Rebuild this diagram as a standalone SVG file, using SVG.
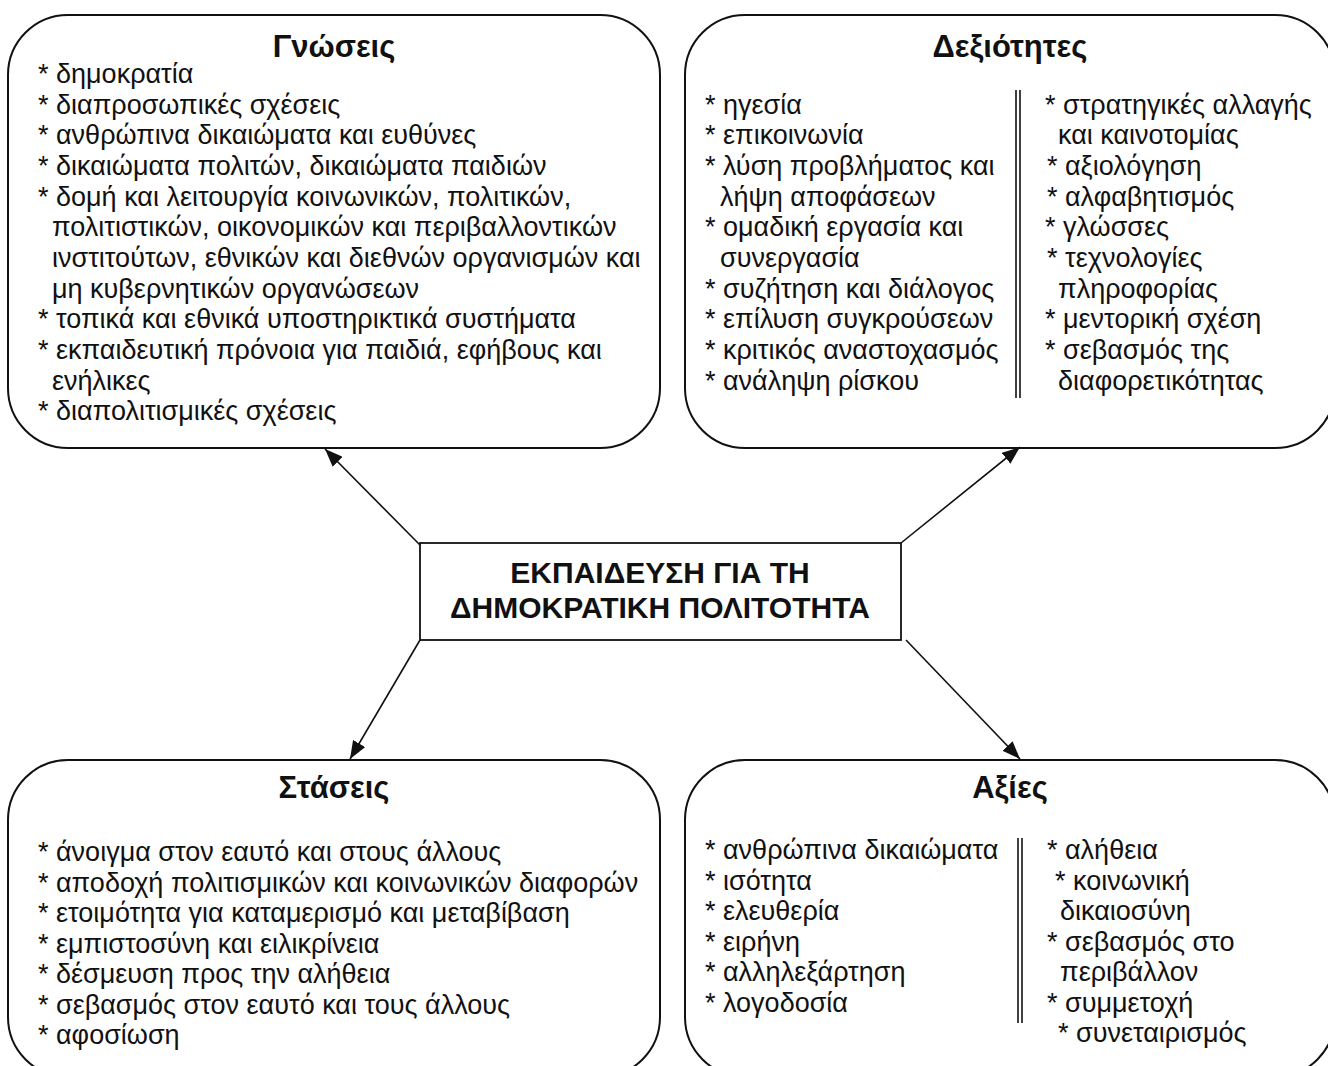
<svg xmlns="http://www.w3.org/2000/svg" width="1328" height="1066" viewBox="0 0 1328 1066">
  <style>
    .box { fill: #fff; stroke: #111; stroke-width: 2; }
    .hub { fill: #fff; stroke: #111; stroke-width: 1.8; }
    .title { font-family: "Liberation Sans", Arial, sans-serif; font-weight: bold; font-size: 31px; fill: #111; text-anchor: middle; }
    .hubtxt { font-family: "Liberation Sans", Arial, sans-serif; font-weight: bold; font-size: 30px; fill: #111; text-anchor: middle; }
    .item { font-family: "Liberation Sans", Arial, sans-serif; font-size: 27px; fill: #111; }
    .bar { stroke: #111; stroke-width: 1.6; }
    .link { stroke: #111; stroke-width: 1.6; fill: none; marker-end: url(#head); }
  </style>
  <defs>
    <marker id="head" markerUnits="userSpaceOnUse" markerWidth="20" markerHeight="14" refX="18" refY="7" orient="auto">
      <path d="M0,0 L18,7 L0,14 z" fill="#111"/>
    </marker>
  </defs>

  <!-- Knowledge -->
  <g id="knowledge">
    <rect class="box" x="8" y="15" width="652" height="433" rx="60" ry="60"/>
    <text class="title" x="334" y="57">Γνώσεις</text>
    <text class="item" x="38" y="83">* δημοκρατία</text>
    <text class="item" x="38" y="113.6">* διαπροσωπικές σχέσεις</text>
    <text class="item" x="38" y="144.3">* ανθρώπινα δικαιώματα και ευθύνες</text>
    <text class="item" x="38" y="174.9">* δικαιώματα πολιτών, δικαιώματα παιδιών</text>
    <text class="item" x="38" y="205.6">* δομή και λειτουργία κοινωνικών, πολιτικών,</text>
    <text class="item" x="52" y="236.2">πολιτιστικών, οικονομικών και περιβαλλοντικών</text>
    <text class="item" x="52" y="266.9">ινστιτούτων, εθνικών και διεθνών οργανισμών και</text>
    <text class="item" x="52" y="297.5">μη κυβερνητικών οργανώσεων</text>
    <text class="item" x="38" y="328.2">* τοπικά και εθνικά υποστηρικτικά συστήματα</text>
    <text class="item" x="38" y="358.8">* εκπαιδευτική πρόνοια για παιδιά, εφήβους και</text>
    <text class="item" x="52" y="389.5">ενήλικες</text>
    <text class="item" x="38" y="420.1">* διαπολιτισμικές σχέσεις</text>
  </g>

  <!-- Skills -->
  <g id="skills">
    <rect class="box" x="685" y="15" width="650" height="433" rx="60" ry="60"/>
    <text class="title" x="1010" y="57">Δεξιότητες</text>
    <line class="bar" x1="1016" y1="90" x2="1016" y2="398"/>
    <line class="bar" x1="1020" y1="90" x2="1020" y2="398"/>
    <text class="item" x="705" y="113.6">* ηγεσία</text>
    <text class="item" x="705" y="144.3">* επικοινωνία</text>
    <text class="item" x="705" y="174.9">* λύση προβλήματος και</text>
    <text class="item" x="720" y="205.6">λήψη αποφάσεων</text>
    <text class="item" x="705" y="236.2">* ομαδική εργασία και</text>
    <text class="item" x="720" y="266.9">συνεργασία</text>
    <text class="item" x="705" y="297.5">* συζήτηση και διάλογος</text>
    <text class="item" x="705" y="328.2">* επίλυση συγκρούσεων</text>
    <text class="item" x="705" y="358.8">* κριτικός αναστοχασμός</text>
    <text class="item" x="705" y="389.5">* ανάληψη ρίσκου</text>
    <text class="item" x="1045" y="113.6">* στρατηγικές αλλαγής</text>
    <text class="item" x="1058" y="144.3">και καινοτομίας</text>
    <text class="item" x="1047" y="174.9">* αξιολόγηση</text>
    <text class="item" x="1047" y="205.6">* αλφαβητισμός</text>
    <text class="item" x="1045" y="236.2">* γλώσσες</text>
    <text class="item" x="1047" y="266.9">* τεχνολογίες</text>
    <text class="item" x="1058" y="297.5">πληροφορίας</text>
    <text class="item" x="1045" y="328.2">* μεντορική σχέση</text>
    <text class="item" x="1045" y="358.8">* σεβασμός της</text>
    <text class="item" x="1058" y="389.5">διαφορετικότητας</text>
  </g>

  <!-- Central hub -->
  <g id="hub">
    <rect class="hub" x="420" y="543" width="481" height="97"/>
    <text class="hubtxt" x="660" y="583">ΕΚΠΑΙΔΕΥΣΗ ΓΙΑ ΤΗ</text>
    <text class="hubtxt" x="660" y="618">ΔΗΜΟΚΡΑΤΙΚΗ ΠΟΛΙΤΟΤΗΤΑ</text>
  </g>

  <!-- Attitudes -->
  <g id="attitudes">
    <rect class="box" x="8" y="760" width="652" height="317" rx="60" ry="60"/>
    <text class="title" x="334" y="798">Στάσεις</text>
    <text class="item" x="38" y="861">* άνοιγμα στον εαυτό και στους άλλους</text>
    <text class="item" x="38" y="891.5">* αποδοχή πολιτισμικών και κοινωνικών διαφορών</text>
    <text class="item" x="38" y="922">* ετοιμότητα για καταμερισμό και μεταβίβαση</text>
    <text class="item" x="38" y="952.5">* εμπιστοσύνη και ειλικρίνεια</text>
    <text class="item" x="38" y="983">* δέσμευση προς την αλήθεια</text>
    <text class="item" x="38" y="1013.5">* σεβασμός στον εαυτό και τους άλλους</text>
    <text class="item" x="38" y="1044">* αφοσίωση</text>
  </g>

  <!-- Values -->
  <g id="values">
    <rect class="box" x="685" y="760" width="650" height="317" rx="60" ry="60"/>
    <text class="title" x="1010" y="798">Αξίες</text>
    <line class="bar" x1="1018" y1="838" x2="1018" y2="1023"/>
    <line class="bar" x1="1022" y1="838" x2="1022" y2="1023"/>
    <text class="item" x="705" y="859">* ανθρώπινα δικαιώματα</text>
    <text class="item" x="705" y="889.5">* ισότητα</text>
    <text class="item" x="705" y="920">* ελευθερία</text>
    <text class="item" x="705" y="950.5">* ειρήνη</text>
    <text class="item" x="705" y="981">* αλληλεξάρτηση</text>
    <text class="item" x="705" y="1011.5">* λογοδοσία</text>
    <text class="item" x="1047" y="859">* αλήθεια</text>
    <text class="item" x="1055" y="889.5">* κοινωνική</text>
    <text class="item" x="1060" y="920">δικαιοσύνη</text>
    <text class="item" x="1047" y="950.5">* σεβασμός στο</text>
    <text class="item" x="1060" y="981">περιβάλλον</text>
    <text class="item" x="1047" y="1011.5">* συμμετοχή</text>
    <text class="item" x="1058" y="1042">* συνεταιρισμός</text>
  </g>

  <!-- Connectors -->
  <g id="connectors">
    <line class="link" x1="420" y1="545" x2="325" y2="449"/>
    <line class="link" x1="901" y1="543" x2="1020" y2="447"/>
    <line class="link" x1="420" y1="640" x2="350" y2="759"/>
    <line class="link" x1="906" y1="640" x2="1020" y2="759"/>
  </g>
</svg>
